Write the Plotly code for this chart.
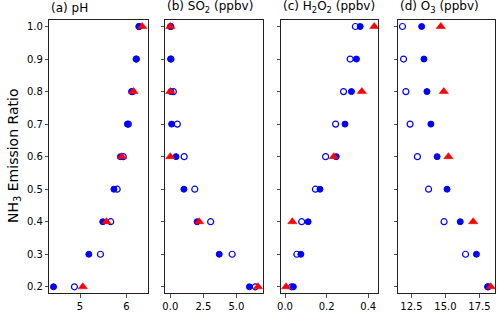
import plotly.graph_objects as go

# Data
ratio = [1.0, 0.9, 0.8, 0.7, 0.6, 0.5, 0.4, 0.3, 0.2]
ratio_tri = [1.0, 0.8, 0.6, 0.4, 0.2]

ph_filled = [6.27, 6.21, 6.11, 6.02, 5.87, 5.73, 5.49, 5.19, 4.43]
ph_open = [6.27, 6.21, 6.13, 6.04, 5.93, 5.80, 5.66, 5.44, 4.88]
ph_tri = [6.34, 6.15, 5.90, 5.57, 5.06]

so2_filled = [0.02, 0.03, 0.05, 0.10, 0.43, 1.03, 2.03, 3.70, 5.98]
so2_open = [0.03, 0.05, 0.23, 0.53, 1.05, 1.85, 3.05, 4.68, 6.43]
so2_tri = [0.0, 0.0, 0.0, 2.18, 6.63]

h2o2_filled = [0.361, 0.343, 0.319, 0.288, 0.246, 0.168, 0.111, 0.076, 0.040]
h2o2_open = [0.338, 0.313, 0.281, 0.243, 0.195, 0.146, 0.080, 0.057, 0.032]
h2o2_tri = [0.429, 0.369, 0.234, 0.035, 0.005]

o3_filled = [13.25, 13.42, 13.64, 13.93, 14.39, 15.12, 16.09, 17.28, 18.10]
o3_open = [11.84, 11.92, 12.09, 12.40, 12.94, 13.76, 14.90, 16.48, 18.15]
o3_tri = [14.66, 14.88, 15.22, 17.04, 18.33]

titles = ["(a) pH", "(b) SO<sub>2</sub> (ppbv)", "(c) H<sub>2</sub>O<sub>2</sub> (ppbv)", "(d) O<sub>3</sub> (ppbv)"]
x_ticks = [[5, 6], [0.0, 2.5, 5.0], [0.0, 0.2, 0.4], [12.5, 15.0, 17.5]]
x_ticklabels = [["5", "6"], ["0.0", "2.5", "5.0"], ["0.0", "0.2", "0.4"], ["12.5", "15.0", "17.5"]]
x_ranges = [[4.34, 6.46], [-0.37, 6.98], [-0.019, 0.448], [11.52, 18.65]]
y_ticks = [0.2, 0.3, 0.4, 0.5, 0.6, 0.7, 0.8, 0.9, 1.0]
y_ticklabels = ["0.2", "0.3", "0.4", "0.5", "0.6", "0.7", "0.8", "0.9", "1.0"]
y_range = [0.18, 1.02]
y_label = "NH<sub>3</sub> Emission Ratio"

series = [
    (ph_filled, ph_open, ph_tri),
    (so2_filled, so2_open, so2_tri),
    (h2o2_filled, h2o2_open, h2o2_tri),
    (o3_filled, o3_open, o3_tri),
]

W, H = 500, 312
x_domains = [[45.7, 145.0], [162.7, 260.7], [279.3, 377.3], [397.3, 495.0]]
y_domain = [1 - 293.3 / H, 1 - 20.0 / H]

BLUE = "#0000ff"
RED = "#ff0000"
FONT = "DejaVu Sans"

fig = go.Figure()
layout = dict(
    width=W, height=H,
    margin=dict(l=0, r=0, t=0, b=0),
    paper_bgcolor="white", plot_bgcolor="white",
    showlegend=False,
    font=dict(family=FONT, size=10, color="black"),
)

annotations = []
for i, (filled, opened, tri) in enumerate(series):
    n = "" if i == 0 else str(i + 1)
    xa = "x" + n
    ya = "y" + n
    fig.add_trace(go.Scatter(
        x=filled, y=ratio, mode="markers", xaxis=xa, yaxis=ya,
        marker=dict(symbol="circle", size=6, color=BLUE, line=dict(color=BLUE, width=1)),
        cliponaxis=False))
    fig.add_trace(go.Scatter(
        x=opened, y=ratio, mode="markers", xaxis=xa, yaxis=ya,
        marker=dict(symbol="circle-open", size=6, color=BLUE, line=dict(color=BLUE, width=1.2)),
        cliponaxis=False))
    fig.add_trace(go.Scatter(
        x=tri, y=ratio_tri, mode="markers", xaxis=xa, yaxis=ya,
        marker=dict(symbol="triangle-up", size=8, color=RED, line=dict(color=RED, width=0.6)),
        cliponaxis=False))

    dom = [x_domains[i][0] / W, x_domains[i][1] / W]
    layout["xaxis" + n] = dict(
        domain=dom, range=x_ranges[i], anchor=ya,
        tickmode="array", tickvals=x_ticks[i], ticktext=x_ticklabels[i],
        showline=True, mirror=True, linecolor="#222", linewidth=1,
        ticks="outside", ticklen=3.5, tickwidth=0.8, tickcolor="#222",
        showgrid=False, zeroline=False, fixedrange=True,
        tickfont=dict(family=FONT, size=10, color="black"),
    )
    layout["yaxis" + n] = dict(
        domain=y_domain, range=y_range, anchor=xa,
        tickmode="array", tickvals=y_ticks, ticktext=y_ticklabels,
        showticklabels=(i == 0),
        showline=True, mirror=True, linecolor="#222", linewidth=1,
        ticks="outside", ticklen=3.5, tickwidth=0.8, tickcolor="#222",
        showgrid=False, zeroline=False, fixedrange=True,
        tickfont=dict(family=FONT, size=10, color="black"),
    )
    annotations.append(dict(
        text=titles[i], xref="paper", yref="paper",
        x=dom[0], y=y_domain[1] + 3 / H, xanchor="left", yanchor="bottom",
        showarrow=False, font=dict(family=FONT, size=12, color="black"),
    ))

annotations.append(dict(
    text=y_label, xref="paper", yref="paper",
    x=10 / W, y=1 - 156 / H, xanchor="center", yanchor="middle",
    textangle=-90, showarrow=False, font=dict(family=FONT, size=14, color="black"),
))
layout["annotations"] = annotations
fig.update_layout(**layout)

fig.write_html(
    "out.html",
    config={"displayModeBar": False, "staticPlot": True},
    post_script="document.body.style.margin='0';document.body.style.padding='0';document.body.style.overflow='hidden';",
)
